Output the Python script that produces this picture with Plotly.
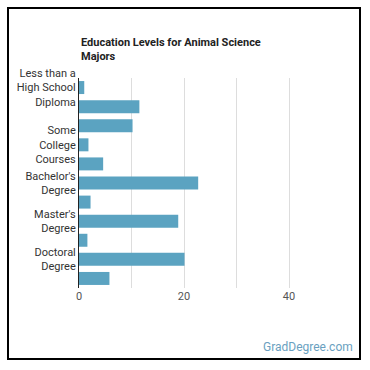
import plotly.graph_objects as go

categories = [
    "Less than a High School Diploma",
    "High School Diploma",
    "Post-Secondary Certificate",
    "Some College Courses",
    "Associate's Degree",
    "Bachelor's Degree",
    "Post-Baccalaureate Certificate",
    "Master's Degree",
    "Post-Master's Certificate",
    "Doctoral Degree",
    "Post-Doctoral Training",
]
values = [1.0, 11.5, 10.2, 1.8, 4.6, 22.7, 2.2, 18.9, 1.6, 20.1, 5.8]
tick_labels = [
    "Less than a<br>High School<br>Diploma", "", "",
    "Some<br>College<br>Courses", "",
    "Bachelor's<br>Degree", "",
    "Master's<br>Degree", "",
    "Doctoral<br>Degree", "",
]
x_ticks = [0, 20, 40]

FONT = "Roboto"
L, R, T, B = 79, 39, 78, 82
W = H = 370
pw, ph = W - L - R, H - T - B

def px(x):
    return (x - L) / pw

def py(y):
    return (H - B - y) / ph

fig = go.Figure(go.Bar(
    x=values, y=categories, orientation="h",
    marker=dict(color="#5ba3c1", line=dict(width=0)),
))

fig.update_layout(
    width=W, height=H,
    margin=dict(l=L, r=R, t=T, b=B),
    paper_bgcolor="white", plot_bgcolor="white",
    showlegend=False, bargap=0.32,
    font=dict(family=FONT, size=11, color="#333"),
    xaxis=dict(
        range=[0, 48], tickvals=x_ticks, ticktext=[str(v) for v in x_ticks],
        showgrid=True, gridcolor="#dddddd", gridwidth=1,
        minor=dict(dtick=10, showgrid=True, gridcolor="#dddddd", gridwidth=1),
        zeroline=False, showline=False, ticks="",
        tickfont=dict(family=FONT, size=11, color="#555"),
    ),
    yaxis=dict(
        type="category", categoryorder="array", categoryarray=categories,
        autorange="reversed",
        tickvals=categories, ticktext=tick_labels,
        showgrid=False, zeroline=False,
        showline=True, linecolor="#222", linewidth=1, ticks="",
        ticklabelstandoff=0,
        tickfont=dict(family=FONT, size=11, color="#333"),
    ),
    shapes=[dict(
        type="rect", xref="paper", yref="paper",
        x0=px(8), x1=px(360), y0=py(359), y1=py(8),
        line=dict(color="black", width=2), fillcolor="rgba(0,0,0,0)",
    )],
    annotations=[
        dict(
            text="<b>Education Levels for Animal Science<br>Majors</b>",
            xref="paper", yref="paper", x=0, y=py(49),
            xanchor="left", yanchor="middle", align="left", showarrow=False,
            font=dict(family=FONT, size=11, color="#222"),
        ),
        dict(
            text="GradDegree.com",
            xref="paper", yref="paper", x=px(355), y=py(347),
            xanchor="right", yanchor="middle", showarrow=False,
            font=dict(family=FONT, size=12, color="#6a9fc0"),
        ),
    ],
)

fig.write_html("out.html")
